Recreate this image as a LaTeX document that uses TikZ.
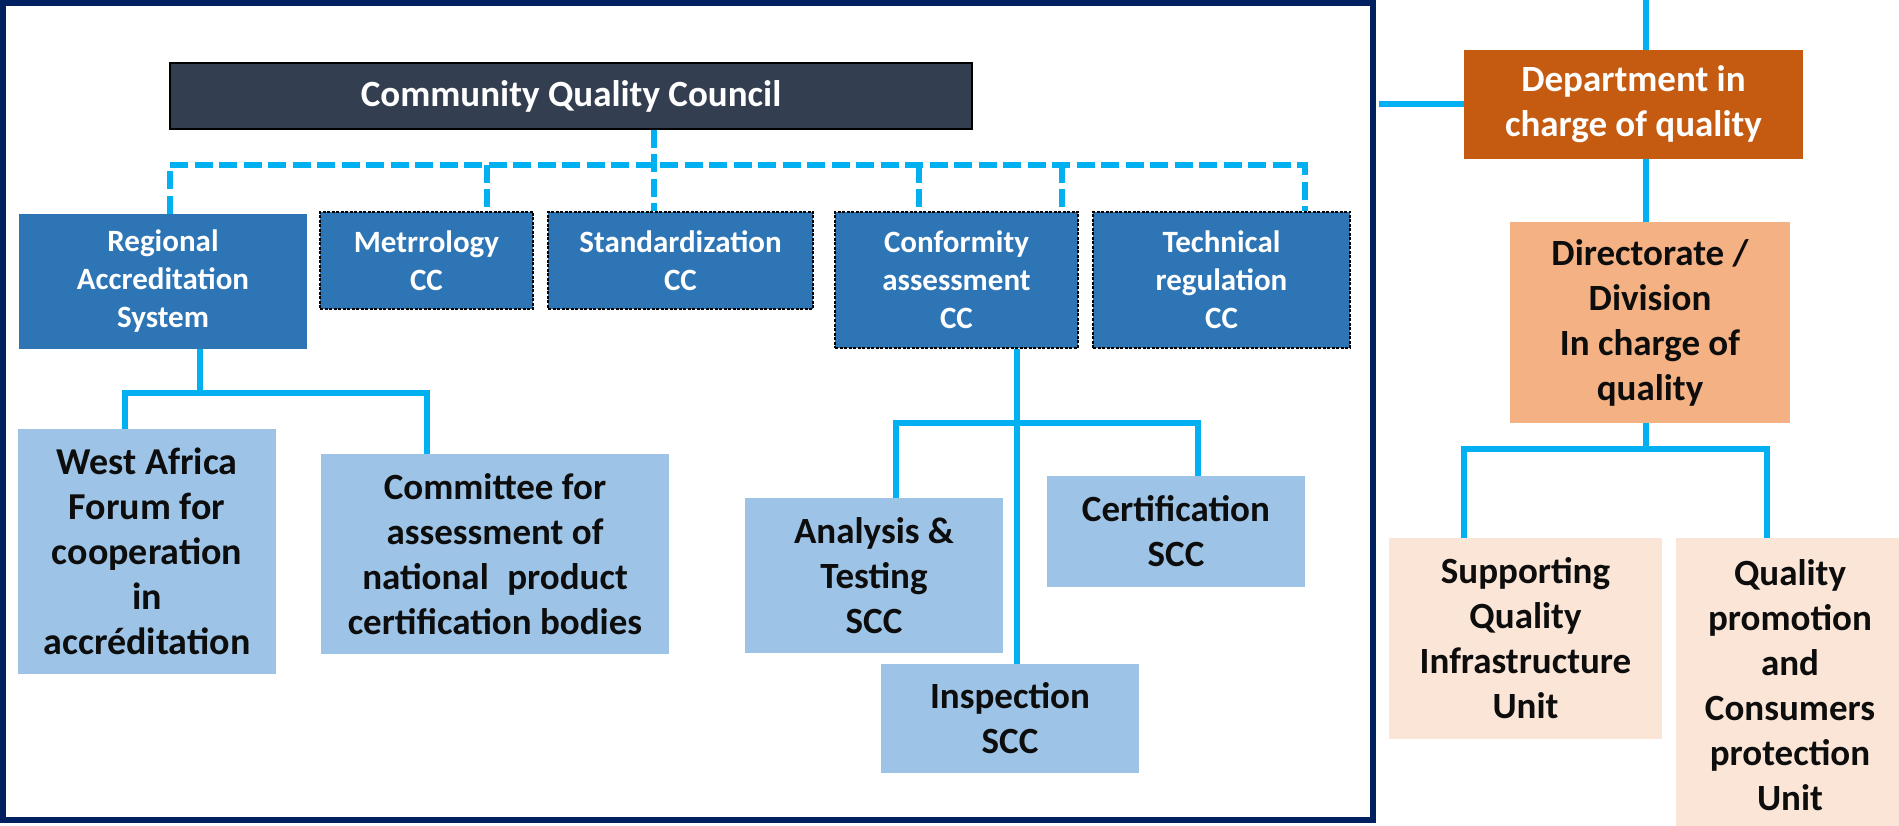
\documentclass[tikz,border=0pt]{standalone}
\usepackage{fontspec}
\setmainfont{Carlito}
\usetikzlibrary{calc}
\definecolor{councilgray}{HTML}{333F50}
\definecolor{midblue}{HTML}{2E75B6}
\definecolor{lightblue}{HTML}{9DC3E6}
\definecolor{deptorange}{HTML}{C55A11}
\definecolor{dirorange}{HTML}{F4B183}
\definecolor{unitpeach}{HTML}{FBE5D6}
\definecolor{linkcyan}{HTML}{00B0F0}
\definecolor{frameblue}{HTML}{002060}
\definecolor{textblack}{HTML}{0D0D0D}
\begin{document}
\begin{tikzpicture}[x=1pt,y=-1pt,
  base/.style={rectangle, inner sep=0pt, align=center, font=\bfseries\fontsize{37}{45}\selectfont},
  council/.style={base, fill=councilgray, draw=black, line width=1.5pt, text=white, font=\bfseries\fontsize{37}{44}\selectfont},
  ccbox/.style={base, fill=midblue, text=white, font=\bfseries\fontsize{31}{38}\selectfont},
  ccdash/.style={ccbox, draw=black, line width=1.2pt, dash pattern=on 3pt off 1.5pt},
  subbox/.style={base, fill=lightblue, text=textblack},
  deptbox/.style={base, fill=deptorange, text=white},
  dirbox/.style={base, fill=dirorange, text=textblack},
  unitbox/.style={base, fill=unitpeach, text=textblack},
  link/.style={draw=linkcyan, line width=6pt},
  dlink/.style={link, dash pattern=on 18pt off 6.5pt},
  framebox/.style={rectangle, draw=frameblue, line width=6pt, inner sep=0pt},
  tickline/.style={draw=linkcyan, line width=3pt}
]
\useasboundingbox (0,0) rectangle (1899,826);
\fill[white] (0,0) rectangle (1899,826);

% frame
\node[framebox, minimum width=1370, minimum height=817] (frame) at (688,411.5) {};

% boxes
\node[council, minimum width=802, minimum height=66] (cqc) at (571,96) {Community Quality Council};
\node[ccbox, minimum width=288, minimum height=135] (ras) at (163,281.5) {Regional\\Accreditation\\System};
\node[ccdash, minimum width=213, minimum height=97] (metro) at (426.5,260.5) {Metrrology\\CC};
\node[ccdash, minimum width=265, minimum height=97] (stand) at (680.5,260.5) {Standardization\\CC};
\node[ccdash, minimum width=243, minimum height=136] (conf) at (956.5,280) {Conformity\\assessment\\CC};
\node[ccdash, minimum width=257, minimum height=136] (tech) at (1221.5,280) {Technical\\regulation\\CC};

\node[subbox, minimum width=258, minimum height=245, font=\bfseries\fontsize{38}{45}\selectfont] (wa) at (147,551.5) {West Africa\\Forum for\\cooperation\\in\\accréditation};
\node[subbox, minimum width=348, minimum height=200] (comm) at (495,554) {Committee for\\assessment of\\national\enspace product\\certification bodies};
\node[subbox, minimum width=258, minimum height=155] (anal) at (874,575.5) {Analysis \&\\Testing\\SCC};
\node[subbox, minimum width=258, minimum height=111] (cert) at (1176,531.5) {Certification\\SCC};
\node[subbox, minimum width=258, minimum height=109] (insp) at (1010,718.5) {Inspection\\SCC};

\node[deptbox, minimum width=339, minimum height=109] (dept) at (1633.5,104.5) {Department in\\charge of quality};
\node[dirbox, minimum width=280, minimum height=201] (dir) at (1650,322.5) {Directorate /\\Division\\In charge of\\quality};
\node[unitbox, minimum width=273, minimum height=201] (sup) at (1525.5,638.5) {Supporting\\Quality\\Infrastructure\\Unit};
\node[unitbox, minimum width=228, minimum height=294] (prom) at (1790,685) {Quality\\promotion\\and\\Consumers\\protection\\Unit};

% dashed connectors
\coordinate (dL) at (170,165);
\coordinate (dM) at (487,165);
\coordinate (dS) at (654,165);
\coordinate (dC1) at (919,165);
\coordinate (dC2) at (1062,165);
\coordinate (dT) at (1305,165);
\draw[dlink] (ras.north -| dL) -- (dL) -- (dT) -- (tech.north -| dT);
\draw[dlink] (dM) -- (metro.north -| dM);
\draw[dlink] (cqc.south -| dS) -- (stand.north -| dS);
\draw[dlink] (dC1) -- (conf.north -| dC1);
\draw[dlink] (dC2) -- (conf.north -| dC2);

% regional accreditation branch
\coordinate (r1) at (200,393);
\coordinate (r1L) at (125,393);
\coordinate (r1R) at (427,393);
\draw[link] (ras.south -| r1) -- (r1);
\draw[link] (wa.north -| r1L) -- (r1L) -- (r1R) -- (comm.north -| r1R);

% conformity branch
\coordinate (c1) at (1017,423);
\coordinate (c1L) at (896,423);
\coordinate (c1R) at (1198,423);
\draw[link] (conf.south -| c1) -- (insp.north -| c1);
\draw[link] (anal.north -| c1L) -- (c1L) -- (c1R) -- (cert.north -| c1R);

% right side
\coordinate (topend) at (1646,0);
\coordinate (rj) at (1646,449);
\coordinate (rjL) at (1464,449);
\coordinate (rjR) at (1767,449);
\draw[link] (topend) -- (dept.north -| topend);
\draw[link] ([xshift=3pt]frame.east |- dept.west) -- (dept.west);
\draw[link] (dept.south -| topend) -- (dir.north -| topend);
\draw[link] (dir.south -| topend) -- (rj);
\draw[link] (sup.north -| rjL) -- (rjL) -- (rjR) -- (prom.north -| rjR);

% small ticks below frame
\foreach \tx [count=\i] in {517,669,835,1002}{
  \coordinate (tk\i) at (\tx,828);
  \draw[tickline] ([yshift=-3pt]frame.south -| tk\i) -- (tk\i);
}
\end{tikzpicture}
\end{document}
